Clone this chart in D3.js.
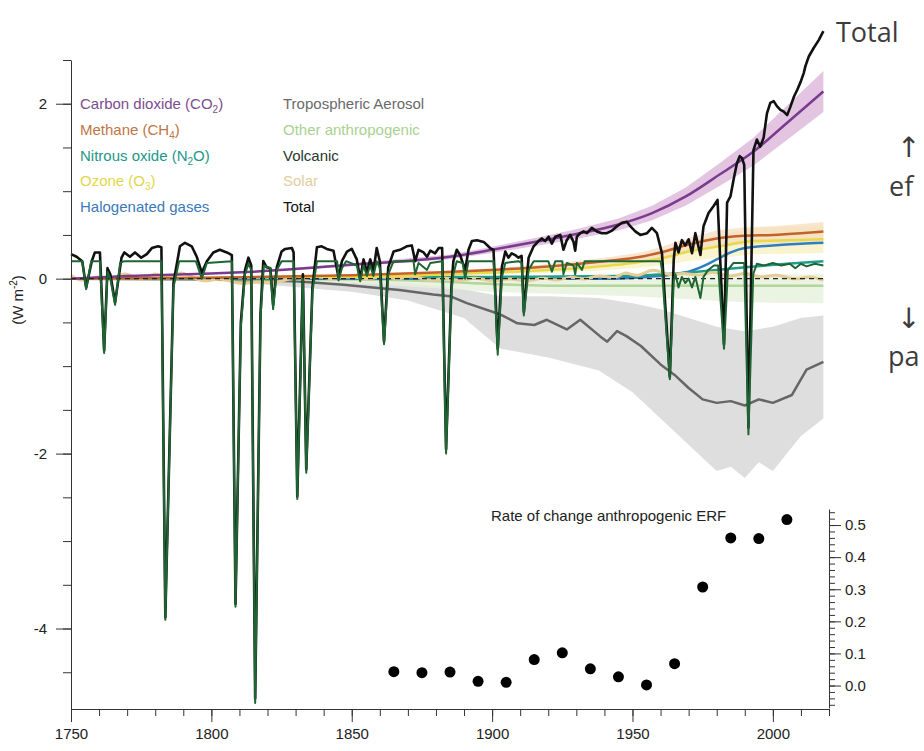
<!DOCTYPE html>
<html>
<head>
<meta charset="utf-8">
<script src="https://cdn.jsdelivr.net/npm/d3@7"></script>
<style>
  body { margin: 0; background: #fff; }
  svg { display: block; font-family: "Liberation Sans", Arial, sans-serif; }
  .axis path, .axis line { stroke: #333; }
  .axis text { font-size: 15px; fill: #222; font-family: "Liberation Sans", Arial, sans-serif; }
</style>
</head>
<body>
<div id="chart"></div>
<script>
// ---- data (year, W m-2) ----
var co2 = [[1750, 0], [1770, 0.03], [1800, 0.06], [1815, 0.08], [1850, 0.16], [1885, 0.25], [1900, 0.33],
  [1917, 0.43], [1930, 0.51], [1945, 0.62], [1957, 0.75], [1969, 0.94], [1981, 1.19], [1993, 1.45],
  [2005, 1.78], [2018, 2.14]];
var ch4 = [[1750, 0], [1800, 0.01], [1850, 0.04], [1880, 0.07], [1900, 0.1], [1920, 0.14], [1940, 0.2],
  [1953, 0.25], [1960, 0.3], [1970, 0.39], [1980, 0.46], [1990, 0.49], [2000, 0.5], [2010, 0.52], [2018, 0.54]];
var n2o = [[1750, 0], [1850, 0.01], [1900, 0.02], [1945, 0.03], [1970, 0.07], [1990, 0.13], [2005, 0.17], [2018, 0.2]];
var o3 = [[1750, 0], [1850, 0.02], [1900, 0.07], [1930, 0.12], [1950, 0.18], [1960, 0.23], [1970, 0.31],
  [1981, 0.37], [1993, 0.43], [2005, 0.44], [2018, 0.45]];
var halo = [[1750, 0], [1940, 0], [1955, 0.02], [1965, 0.05], [1970, 0.08], [1975, 0.14], [1980, 0.22],
  [1985, 0.3], [1990, 0.35], [2000, 0.38], [2010, 0.4], [2018, 0.41]];
var aerosol = [[1750, 0], [1800, -0.01], [1830, -0.03], [1847, -0.07], [1867, -0.13], [1879, -0.18], [1885, -0.2],
  [1891, -0.28], [1903, -0.41], [1909, -0.51], [1915, -0.53], [1919.5, -0.47], [1926.6, -0.58], [1931.4, -0.47],
  [1938.5, -0.66], [1941, -0.72], [1944.5, -0.6], [1948, -0.66], [1953, -0.77], [1960, -0.98], [1965, -1.1],
  [1970, -1.25], [1975, -1.38], [1980, -1.42], [1985, -1.4], [1990, -1.45], [1995, -1.38], [2000, -1.42],
  [2006.8, -1.33], [2012, -1.04], [2018, -0.95]];
var aerosolLo = [[1750, 0], [1800, -0.02], [1850, -0.15], [1870, -0.25], [1890, -0.45], [1903, -0.8], [1920, -0.9],
  [1938, -1.05], [1950, -1.3], [1960, -1.6], [1970, -1.9], [1975, -2.05], [1980, -2.2], [1985, -2.15],
  [1990, -2.28], [1995, -2.1], [2000, -2.2], [2005, -2.0], [2010, -1.8], [2018, -1.6]];
var aerosolHi = [[1750, 0], [1800, 0], [1850, -0.02], [1870, -0.05], [1890, -0.12], [1903, -0.2], [1920, -0.2],
  [1938, -0.22], [1950, -0.28], [1960, -0.35], [1970, -0.45], [1980, -0.55], [1990, -0.6], [2000, -0.55],
  [2010, -0.45], [2018, -0.42]];
var other = [[1750, 0], [1850, -0.01], [1880, -0.03], [1900, -0.06], [1920, -0.08], [1950, -0.08], [2018, -0.08]];
var otherLo = [[1750, 0], [1850, -0.05], [1900, -0.15], [1950, -0.2], [1990, -0.27], [2018, -0.28]];
var otherHi = [[1750, 0], [1850, 0.02], [1900, 0.02], [1950, 0.04], [2018, 0.05]];
var solar = [[1750, 0.04], [1753.8, -0.05], [1759.7, 0.05], [1765, -0.03], [1769, 0.1], [1775, -0.05], [1780, 0.1],
  [1784, -0.03], [1789.4, 0.12], [1796.6, -0.07], [1803, 0.03], [1810, -0.08], [1816, -0.02], [1823, -0.07],
  [1830, 0.04], [1833, -0.03], [1837, 0.06], [1843, -0.03], [1848, 0.06], [1856, -0.03], [1860, 0.05],
  [1867, -0.03], [1871, 0.06], [1878, -0.05], [1883, 0.03], [1889, -0.05], [1893, 0.03], [1901, -0.05],
  [1906, 0.02], [1913, -0.05], [1918, 0.03], [1923, -0.04], [1928, 0.04], [1933, -0.03], [1938, 0.06],
  [1944, -0.02], [1947, 0.1], [1952, 0.0], [1957, 0.14], [1963, 0.02], [1968, 0.08], [1974, 0.02], [1979, 0.1],
  [1985, 0.0], [1990, 0.09], [1996, -0.01], [2001, 0.07], [2008, -0.03], [2013, 0.04], [2018, -0.02]];
var volcanic = [[1750, 0.2], [1754, 0.2], [1755.4, -0.12], [1757.2, 0.2], [1760.3, 0.2], [1761.8, -0.85],
  [1763, 0.08], [1764, 0.0], [1765.7, -0.3], [1767.5, 0.18], [1769, 0.2], [1782.2, 0.2], [1783.6, -3.9],
  [1786.5, -0.1], [1788.5, 0.2], [1794.5, 0.2], [1796.6, 0.0], [1798.4, 0.18], [1807.3, 0.2], [1808.6, -3.75],
  [1810.5, -0.55], [1812, 0.05], [1813.2, 0.17], [1814.2, 0.1], [1815.6, -4.85], [1817.5, -0.45], [1818.7, 0.15],
  [1821, 0.12], [1822, -0.35], [1823.3, 0.1], [1825, 0.2], [1829.3, 0.2], [1830.6, -2.52], [1832.6, 0.0],
  [1833.8, -2.22], [1836, -0.15], [1837.6, 0.2], [1844.8, 0.2], [1845.3, -0.02], [1846.5, 0.12], [1848, 0.2],
  [1851.8, 0.15], [1853, -0.03], [1854.2, 0.15], [1855.4, 0.03], [1856.6, 0.15], [1857.7, 0.03], [1858.9, 0.2],
  [1860, 0.12], [1861.5, -0.75], [1863, 0.05], [1864.9, 0.2], [1872, 0.2], [1872.6, 0.05], [1873.8, 0.18],
  [1876.8, 0.1], [1878, 0.18], [1882.2, 0.2], [1883.6, -2.0], [1885.5, -0.15], [1886.2, 0.05], [1887.4, 0.2],
  [1889.5, 0.18], [1890.4, 0.0], [1891.6, 0.2], [1900.5, 0.2], [1902, -0.87], [1903.5, 0.02], [1904.7, 0.18],
  [1909.4, 0.2], [1910.5, 0.18], [1911.3, -0.42], [1913, 0.1], [1914.8, 0.2], [1920, 0.2], [1921.3, 0.08],
  [1922.5, 0.2], [1925, 0.2], [1925.4, 0.05], [1926.6, 0.18], [1929, 0.15], [1929.6, 0.05], [1930.2, 0.18],
  [1932, 0.1], [1933, 0.2], [1960, 0.2], [1960.5, 0.1], [1963.3, -1.15], [1964.7, -0.02], [1965.3, 0.05],
  [1966.4, -0.1], [1967.6, 0.02], [1968.8, -0.05], [1970, 0.0], [1971.2, -0.1], [1972.4, 0.02], [1974.2, -0.22],
  [1975.3, 0.02], [1977, 0.1], [1979, 0.15], [1980.5, 0.15], [1982.6, -0.8], [1984, 0.1], [1986, 0.18],
  [1989.8, 0.18], [1991.3, -1.78], [1993, 0.05], [1994.3, 0.17], [1997, 0.15], [2000, 0.18], [2003, 0.15],
  [2006, 0.17], [2008, 0.12], [2010, 0.17], [2012, 0.14], [2015, 0.17], [2018, 0.15]];
var total = [[1750, 0.28], [1752, 0.25], [1754, 0.2], [1755.4, -0.1], [1757.4, 0.2], [1758.5, 0.3], [1760.3, 0.3],
  [1761.8, -0.82], [1763, 0.12], [1764, 0.05], [1765.7, -0.27], [1768, 0.24], [1769, 0.3], [1771, 0.25],
  [1772.8, 0.3], [1775, 0.24], [1777, 0.28], [1778.8, 0.35], [1781, 0.37], [1782.2, 0.36], [1783.6, -3.87],
  [1786.5, -0.05], [1788.8, 0.37], [1790.6, 0.41], [1793, 0.37], [1794.8, 0.25], [1796.6, 0.07], [1798.4, 0.2],
  [1800.7, 0.3], [1803, 0.33], [1805.5, 0.3], [1807.3, 0.27], [1808.6, -3.72], [1810.5, -0.5], [1812, 0.1],
  [1813.2, 0.24], [1814.2, 0.15], [1815.6, -4.8], [1817.5, -0.4], [1818.5, 0.2], [1819.7, 0.13], [1821, 0.12],
  [1822, -0.3], [1823.3, 0.13], [1825, 0.31], [1826.3, 0.34], [1828.7, 0.35], [1829.3, 0.3], [1830.6, -2.49],
  [1832.6, 0.05], [1833.8, -2.18], [1836, -0.1], [1837.6, 0.36], [1839.3, 0.37], [1841.1, 0.34], [1843.5, 0.32],
  [1845.3, 0.01], [1846.5, 0.2], [1848.3, 0.31], [1850, 0.34], [1851.8, 0.22], [1853, 0.0], [1854.2, 0.22],
  [1855.4, 0.08], [1856.6, 0.22], [1857.7, 0.08], [1858.9, 0.35], [1860, 0.2], [1861.5, -0.72], [1863, 0.13],
  [1864.9, 0.31], [1867.2, 0.33], [1869.6, 0.37], [1871.4, 0.38], [1872.6, 0.2], [1873.8, 0.33], [1875.6, 0.3],
  [1876.8, 0.25], [1878, 0.32], [1879.7, 0.29], [1881, 0.35], [1882.2, 0.35], [1883.6, -1.95], [1885.5, -0.1],
  [1886.2, 0.2], [1887.4, 0.33], [1888.6, 0.27], [1890.4, 0.1], [1891.6, 0.33], [1892.8, 0.43], [1894.6, 0.44],
  [1897, 0.42], [1899.3, 0.35], [1900.5, 0.33], [1902, -0.8], [1903.5, 0.14], [1904.7, 0.31], [1905.8, 0.24],
  [1907, 0.29], [1908.2, 0.27], [1909.4, 0.24], [1910.5, 0.26], [1911.3, -0.38], [1913, 0.24], [1914.8, 0.37],
  [1916.5, 0.43], [1917.7, 0.46], [1918.9, 0.43], [1920.1, 0.48], [1921.3, 0.4], [1922.5, 0.48], [1924.3, 0.5],
  [1925.4, 0.33], [1926.6, 0.44], [1927.8, 0.5], [1929, 0.42], [1929.6, 0.32], [1930.2, 0.48], [1931.4, 0.52],
  [1932.6, 0.54], [1933.8, 0.52], [1935.5, 0.58], [1937.3, 0.54], [1939.1, 0.52], [1940.9, 0.52], [1942.7, 0.55],
  [1944.5, 0.6], [1946.2, 0.64], [1948, 0.65], [1949.2, 0.6], [1951, 0.54], [1952.8, 0.5], [1955.2, 0.52],
  [1956.9, 0.58], [1958.7, 0.52], [1960.5, 0.29], [1963.3, -1.12], [1964.7, 0.22], [1965.3, 0.41], [1966.4, 0.3],
  [1967.6, 0.44], [1968.8, 0.38], [1970, 0.45], [1971.2, 0.29], [1972.4, 0.52], [1974.2, 0.27], [1975.3, 0.6],
  [1977.1, 0.75], [1978.9, 0.83], [1980.3, 0.9], [1982.6, -0.75], [1983.7, 0.87], [1984.9, 0.94], [1986, 1.13],
  [1987.2, 1.32], [1988.2, 1.4], [1989, 1.38], [1989.8, 1.3], [1991.3, -1.7], [1993.1, 1.47], [1994.3, 1.59],
  [1995.5, 1.51], [1996.7, 1.61], [1997.9, 1.89], [1999.1, 2.01], [2000.3, 2.03], [2001.5, 1.97], [2002.7, 1.93],
  [2003.9, 1.91], [2005.1, 1.87], [2006.3, 1.97], [2007.5, 2.08], [2008.7, 2.16], [2009.9, 2.25], [2011, 2.35],
  [2011.6, 2.43], [2012.8, 2.54], [2014.6, 2.64], [2016.4, 2.73], [2018, 2.83]];

// inset: rate of change of anthropogenic ERF (decade centres)
var rateYears = [1865, 1875, 1885, 1895, 1905, 1915, 1925, 1935, 1945, 1955, 1965, 1975, 1985, 1995, 2005];
var rateValues = [0.043, 0.04, 0.042, 0.013, 0.01, 0.081, 0.102, 0.052, 0.027, 0.002, 0.068, 0.307, 0.46, 0.458, 0.517];

var xTicks = [1750, 1800, 1850, 1900, 1950, 2000];
var yTicks = [-4, -2, 0, 2];
var rateTicks = [0, 0.1, 0.2, 0.3, 0.4, 0.5];

var legendLeft = [
  { name: "Carbon dioxide (CO", sub: "2", tail: ")", color: "#7b4d8e" },
  { name: "Methane (CH", sub: "4", tail: ")", color: "#bf7645" },
  { name: "Nitrous oxide (N", sub: "2", tail: "O)", color: "#22978a" },
  { name: "Ozone (O", sub: "3", tail: ")", color: "#e3d64e" },
  { name: "Halogenated gases", color: "#3b79b9" }
];
var legendRight = [
  { name: "Tropospheric Aerosol", color: "#6a6a6a" },
  { name: "Other anthropogenic", color: "#a9d290" },
  { name: "Volcanic", color: "#27382d" },
  { name: "Solar", color: "#e3cc9f" },
  { name: "Total", color: "#111" }
];

var width = 924, height = 751;

var x = d3.scaleLinear().domain([1750, 2020]).range([71, 829]);
var y = d3.scaleLinear().domain([-4.92, 2.5]).range([709, 60]);
var yRate = d3.scaleLinear().domain([-0.07, 0.55]).range([708, 509]);

var svg = d3.select("#chart").append("svg")
  .attr("width", width)
  .attr("height", height);

// helpers
function pairLine(curve) {
  return d3.line()
    .x(function (d) { return x(d[0]); })
    .y(function (d) { return y(d[1]); })
    .curve(curve || d3.curveLinear);
}
function band(lo, hi) {
  // join lower and upper edges into one area polygon
  var pts = lo.map(function (d) { return [x(d[0]), y(d[1])]; })
    .concat(hi.slice().reverse().map(function (d) { return [x(d[0]), y(d[1])]; }));
  return d3.line().curve(d3.curveLinearClosed)(pts);
}
function scaled(arr, f) {
  return arr.map(function (d) { return [d[0], d[1] * f]; });
}

// ---- uncertainty bands ----
svg.append("path").attr("d", band(aerosolLo, aerosolHi)).attr("fill", "#dedede");
svg.append("path").attr("d", band(otherLo, otherHi)).attr("fill", "#e6f0dc").attr("opacity", 0.8);
svg.append("path").attr("d", band(scaled(o3, 0.65), scaled(o3, 1.35))).attr("fill", "#f7efb8").attr("opacity", 0.7);
svg.append("path").attr("d", band(scaled(ch4, 0.8), scaled(ch4, 1.2))).attr("fill", "#f5dcbc").attr("opacity", 0.7);
svg.append("path").attr("d", band(scaled(co2, 0.89), scaled(co2, 1.11))).attr("fill", "#dcb5da").attr("opacity", 0.8);

// ---- forcing lines ----
var series = [
  { data: aerosol, color: "#666", w: 2.5, curve: d3.curveLinear },
  { data: other, color: "#b3d69a", w: 2.5 },
  { data: halo, color: "#2f7ec2", w: 2.5 },
  { data: n2o, color: "#1e9c8c", w: 2.5 },
  { data: solar, color: "#e6cd96", w: 3, curve: d3.curveBasis },
  { data: o3, color: "#e8d94a", w: 2.5 },
  { data: ch4, color: "#c4622d", w: 2.5 },
  { data: co2, color: "#7a3b8f", w: 2.5 }
];
series.forEach(function (s) {
  svg.append("path")
    .attr("d", pairLine(s.curve || d3.curveMonotoneX)(s.data))
    .attr("fill", "none")
    .attr("stroke", s.color)
    .attr("stroke-width", s.w)
    .attr("stroke-linejoin", "round");
});

// zero line, dashed
svg.append("line")
  .attr("x1", x(1750)).attr("x2", x(2018))
  .attr("y1", y(0)).attr("y2", y(0))
  .attr("stroke", "#222")
  .attr("stroke-width", 1.2)
  .attr("stroke-dasharray", "5,4");

// total underneath, volcanic on top so the spikes show a green core
svg.append("path")
  .attr("d", pairLine()(total))
  .attr("fill", "none")
  .attr("stroke", "#111")
  .attr("stroke-width", 2.6)
  .attr("stroke-linejoin", "round");
svg.append("path")
  .attr("d", pairLine()(volcanic))
  .attr("fill", "none")
  .attr("stroke", "#1f6533")
  .attr("stroke-width", 2)
  .attr("stroke-linejoin", "round");

// ---- axes ----
var gy = svg.append("g").attr("class", "axis").attr("transform", "translate(" + x(1750) + ",0)");
gy.call(d3.axisLeft(y).tickValues(d3.range(-4.5, 2.6, 0.5)).tickSize(8).tickFormat("").tickSizeOuter(0));
gy.append("g").call(d3.axisLeft(y).tickValues(yTicks).tickSize(15).tickPadding(9).tickSizeOuter(0)
    .tickFormat(function (d) { return d < 0 ? "-" + Math.abs(d) : d; }))
  .select(".domain").remove();

var gx = svg.append("g").attr("class", "axis").attr("transform", "translate(0," + y(-4.92) + ")");
gx.call(d3.axisBottom(x).tickValues(d3.range(1750, 2021, 10)).tickSize(7).tickFormat("").tickSizeOuter(0));
gx.append("g").call(d3.axisBottom(x).tickValues(xTicks).tickSize(13).tickPadding(6).tickFormat(d3.format("d")))
  .select(".domain").remove();

// y title
var yt = svg.append("text")
  .attr("transform", "translate(23,300) rotate(-90)")
  .attr("text-anchor", "middle")
  .attr("font-size", 15)
  .attr("fill", "#222");
yt.append("tspan").text("(W m");
yt.append("tspan").attr("dy", -6).attr("font-size", 10).text("-2");
yt.append("tspan").attr("dy", 6).text(")");

// ---- legend ----
function legendRows(items, lx) {
  items.forEach(function (d, i) {
    var t = svg.append("text")
      .attr("x", lx)
      .attr("y", 109 + i * 25.8)
      .attr("font-size", 15)
      .attr("fill", d.color);
    t.append("tspan").text(d.name);
    if (d.sub) {
      t.append("tspan").attr("dy", 4).attr("font-size", 10).text(d.sub);
      t.append("tspan").attr("dy", -4).text(d.tail);
    }
  });
}
legendRows(legendLeft, 80);
legendRows(legendRight, 283);

// ---- inset: rate of change ----
var gr = svg.append("g").attr("class", "axis").attr("transform", "translate(" + x(2020) + ",0)");
gr.call(d3.axisRight(yRate).tickValues(d3.range(-0.06, 0.55, 0.02)).tickSize(6).tickFormat("").tickSizeOuter(0));
gr.append("g").call(d3.axisRight(yRate).tickValues(rateTicks).tickSize(12).tickPadding(4).tickFormat(d3.format(".1f")))
  .call(function (g) { g.select(".domain").remove(); g.selectAll("text").attr("font-size", 14); });

svg.selectAll(".rate")
  .data(rateYears)
  .enter().append("circle")
  .attr("class", "rate")
  .attr("cx", function (d) { return x(d); })
  .attr("cy", function (d, i) { return yRate(rateValues[i]); })
  .attr("r", 5.5)
  .attr("fill", "#000");

svg.append("text")
  .attr("x", 491)
  .attr("y", 521)
  .attr("font-size", 15)
  .attr("fill", "#222")
  .text("Rate of change anthropogenic ERF");

// ---- slide annotations at the right ----
var note = [["Total", 836, 42, 27], ["\u2191", 897, 157, 28], ["ef", 889, 196, 27],
  ["\u2193", 897, 328, 28], ["pa", 888, 366, 27]];
note.forEach(function (n) {
  svg.append("text")
    .attr("x", n[1]).attr("y", n[2])
    .attr("font-family", n[0].length === 1 ? "'DejaVu Sans', sans-serif" : "'Open Sans', 'Noto Sans', sans-serif")
    .attr("font-size", n[3])
    .attr("fill", "#3c3c3c")
    .text(n[0]);
});
</script>
</body>
</html>
